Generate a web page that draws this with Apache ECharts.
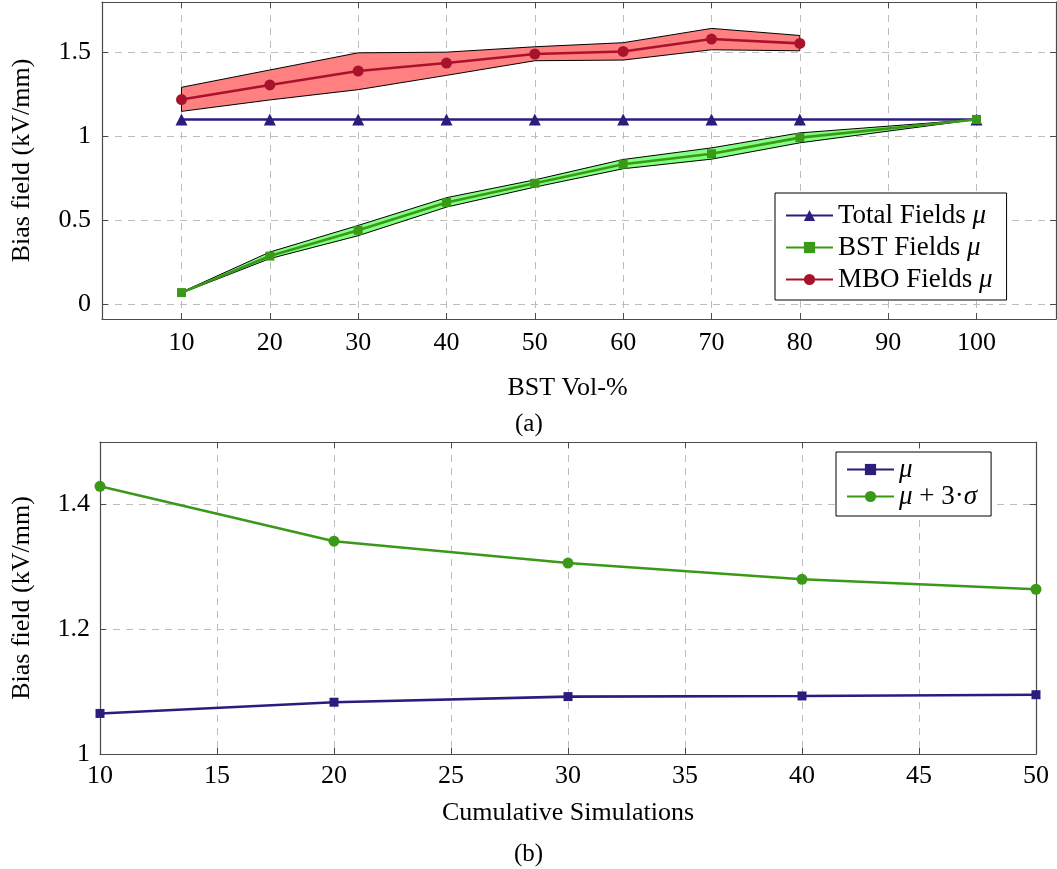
<!DOCTYPE html>
<html>
<head>
<meta charset="utf-8">
<script src="https://cdn.jsdelivr.net/npm/echarts@6/dist/echarts.min.js"></script>
<style>
  html, body { margin: 0; padding: 0; background: #fff; }
  #chart { width: 1057px; height: 869px; }
</style>
</head>
<body>
<div id="chart"></div>
<script>
// ---- (a) bias field vs. BST volume fraction ----
const volTicks = [10, 20, 30, 40, 50, 60, 70, 80, 90, 100];
const totalVol = [10, 20, 30, 40, 50, 60, 70, 80, 100];
const totalMean = [1.1, 1.1, 1.1, 1.1, 1.1, 1.1, 1.1, 1.1, 1.1];
const bstVol = [10, 20, 30, 40, 50, 60, 70, 80, 100];
const bstMean = [0.071, 0.288, 0.441, 0.607, 0.721, 0.834, 0.896, 0.992, 1.1];
const bstLow = [0.068, 0.273, 0.409, 0.579, 0.698, 0.807, 0.864, 0.961, 1.1];
const bstHigh = [0.074, 0.312, 0.470, 0.635, 0.741, 0.862, 0.931, 1.020, 1.1];
const mboVol = [10, 20, 30, 40, 50, 60, 70, 80];
const mboMean = [1.218, 1.305, 1.388, 1.435, 1.489, 1.504, 1.578, 1.552];
const mboLow = [1.148, 1.216, 1.277, 1.362, 1.449, 1.453, 1.514, 1.508];
const mboHigh = [1.291, 1.394, 1.496, 1.500, 1.532, 1.556, 1.641, 1.599];
const fieldTicksA = [0, 0.5, 1, 1.5];

// ---- (b) convergence over cumulative simulations ----
const simCount = [10, 20, 30, 40, 50];
const simMean = [1.065, 1.083, 1.092, 1.093, 1.095];
const simMean3Sigma = [1.429, 1.341, 1.306, 1.280, 1.264];

const FONT = 'Liberation Serif';
const FS = 26;
const NAVY = '#2b1d7e';
const GREEN = '#3a9a17';
const RED = '#a8132b';
const FRAME = '#4a4a4a';
const GRID = '#bdbdbd';

const pair = (xs, ys) => xs.map((x, i) => [x, ys[i]]);

// shaded min/max band drawn as one closed polygon
function band(name, xs, lo, hi, fill, xi, yi) {
  return {
    type: 'custom', name, xAxisIndex: xi, yAxisIndex: yi, z: 1, silent: true,
    data: xs.map((x, i) => [x, lo[i], hi[i]]),
    encode: { x: 0, y: [1, 2] },
    renderItem: (params, api) => {
      if (params.dataIndex !== 0) return;
      const up = xs.map((x, i) => api.coord([x, hi[i]]));
      const dn = xs.map((x, i) => api.coord([x, lo[i]])).reverse();
      return {
        type: 'polygon',
        shape: { points: up.concat(dn) },
        style: { fill, stroke: '#000', lineWidth: 1 }
      };
    }
  };
}

function line(name, data, color, symbol, size, xi, yi) {
  return {
    type: 'line', name, data, xAxisIndex: xi, yAxisIndex: yi, z: 3,
    symbol, symbolSize: size, showSymbol: true,
    lineStyle: { color, width: 2.6 },
    itemStyle: { color, borderWidth: 0 },
    emphasis: { disabled: true }
  };
}

const tickStyle = { show: true, inside: true, length: 6, lineStyle: { color: FRAME, width: 1 } };
const lineStyleAxis = { show: true, onZero: false, lineStyle: { color: FRAME, width: 1.2 } };
const splitDash = { show: true, lineStyle: { color: GRID, type: [7, 6], width: 1 } };
const labelStyle = { color: '#000', fontFamily: FONT, fontSize: FS };
const nameStyle = { color: '#000', fontFamily: FONT, fontSize: FS };

const legendRich = {
  t: { fontFamily: FONT, fontSize: 27, color: '#000', lineHeight: 30 },
  i: { fontFamily: FONT, fontSize: 27, fontStyle: 'italic', color: '#000', lineHeight: 30 }
};
function legendLabel(name) {
  return name.split(/(μ|σ)/).filter(s => s.length)
    .map(s => (s === 'μ' || s === 'σ') ? '{i|' + s + '}' : '{t|' + s + '}').join('');
}

const option = {
  animation: false,
  backgroundColor: '#fff',
  grid: [
    { left: 102, right: 1, top: 2, height: 317 },
    { left: 100, right: 21, top: 442, height: 312 }
  ],
  xAxis: [
    {
      type: 'value', gridIndex: 0, min: 1, max: 109, position: 'bottom',
      name: 'BST Vol-%', nameLocation: 'middle', nameGap: 56,
      nameTextStyle: Object.assign({ padding: [0, 23, 0, 0] }, nameStyle),
      axisLine: lineStyleAxis,
      axisTick: Object.assign({ customValues: volTicks }, tickStyle),
      axisLabel: Object.assign({ customValues: volTicks, margin: 11 }, labelStyle),
      splitLine: splitDash
    },
    {
      type: 'value', gridIndex: 0, min: 1, max: 109, position: 'top',
      axisLine: lineStyleAxis,
      axisTick: Object.assign({ customValues: volTicks }, tickStyle),
      axisLabel: { show: false }, splitLine: { show: false }
    },
    {
      type: 'value', gridIndex: 1, min: 10, max: 50, interval: 5, position: 'bottom',
      name: 'Cumulative Simulations', nameLocation: 'middle', nameGap: 46,
      nameTextStyle: nameStyle,
      axisLine: lineStyleAxis, axisTick: tickStyle,
      axisLabel: Object.assign({ margin: 9 }, labelStyle),
      splitLine: splitDash
    },
    {
      type: 'value', gridIndex: 1, min: 10, max: 50, interval: 5, position: 'top',
      axisLine: lineStyleAxis, axisTick: tickStyle,
      axisLabel: { show: false }, splitLine: { show: false }
    }
  ],
  yAxis: [
    {
      type: 'value', gridIndex: 0, min: -0.086, max: 1.798, position: 'left',
      name: 'Bias field (kV/mm)', nameLocation: 'middle', nameGap: 67,
      nameTextStyle: nameStyle,
      axisLine: lineStyleAxis,
      axisTick: Object.assign({ customValues: fieldTicksA }, tickStyle),
      axisLabel: Object.assign({ customValues: fieldTicksA, margin: 11 }, labelStyle),
      splitLine: splitDash
    },
    {
      type: 'value', gridIndex: 0, min: -0.086, max: 1.798, position: 'right',
      axisLine: lineStyleAxis,
      axisTick: Object.assign({ customValues: fieldTicksA }, tickStyle),
      axisLabel: { show: false }, splitLine: { show: false }
    },
    {
      type: 'value', gridIndex: 1, min: 1, max: 1.5, interval: 0.2, position: 'left',
      name: 'Bias field (kV/mm)', nameLocation: 'middle', nameGap: 65,
      nameTextStyle: nameStyle,
      axisLine: lineStyleAxis, axisTick: tickStyle,
      axisLabel: Object.assign({ margin: 10, showMaxLabel: false }, labelStyle),
      splitLine: splitDash
    },
    {
      type: 'value', gridIndex: 1, min: 1, max: 1.5, interval: 0.2, position: 'right',
      axisLine: lineStyleAxis, axisTick: tickStyle,
      axisLabel: { show: false }, splitLine: { show: false }
    }
  ],
  legend: [
    {
      data: ['Total Fields μ', 'BST Fields μ', 'MBO Fields μ'],
      orient: 'vertical', left: 775, top: 193,
      padding: [9, 14, 7, 10], itemGap: 5,
      itemWidth: 47, itemHeight: 14,
      backgroundColor: '#fff', borderColor: '#000', borderWidth: 1,
      formatter: legendLabel,
      textStyle: { rich: legendRich },
      selectedMode: false
    },
    {
      data: ['μ', 'μ + 3·σ'],
      orient: 'vertical', left: 836, top: 452,
      padding: [4, 14, 6, 10], itemGap: 0,
      itemWidth: 47, itemHeight: 14,
      backgroundColor: '#fff', borderColor: '#000', borderWidth: 1,
      formatter: legendLabel,
      textStyle: { rich: legendRich },
      selectedMode: false
    }
  ],
  graphic: [
    { type: 'text', left: 515, top: 412, style: { text: '(a)', font: '25px "Liberation Serif"', fill: '#000' } },
    { type: 'text', left: 514, top: 842, style: { text: '(b)', font: '25px "Liberation Serif"', fill: '#000' } }
  ],
  series: [
    band('MBO range', mboVol, mboLow, mboHigh, '#ff8080', 0, 0),
    band('BST range', bstVol, bstLow, bstHigh, '#80ff80', 0, 0),
    line('Total Fields μ', pair(totalVol, totalMean), NAVY, 'triangle', 12, 0, 0),
    line('BST Fields μ', pair(bstVol, bstMean), GREEN, 'rect', 9, 0, 0),
    line('MBO Fields μ', pair(mboVol, mboMean), RED, 'circle', 11, 0, 0),
    line('μ', pair(simCount, simMean), NAVY, 'rect', 9, 2, 2),
    line('μ + 3·σ', pair(simCount, simMean3Sigma), GREEN, 'circle', 11, 2, 2)
  ]
};

const chart = echarts.init(document.getElementById('chart'), null, { renderer: 'canvas' });
chart.setOption(option);
</script>
</body>
</html>
